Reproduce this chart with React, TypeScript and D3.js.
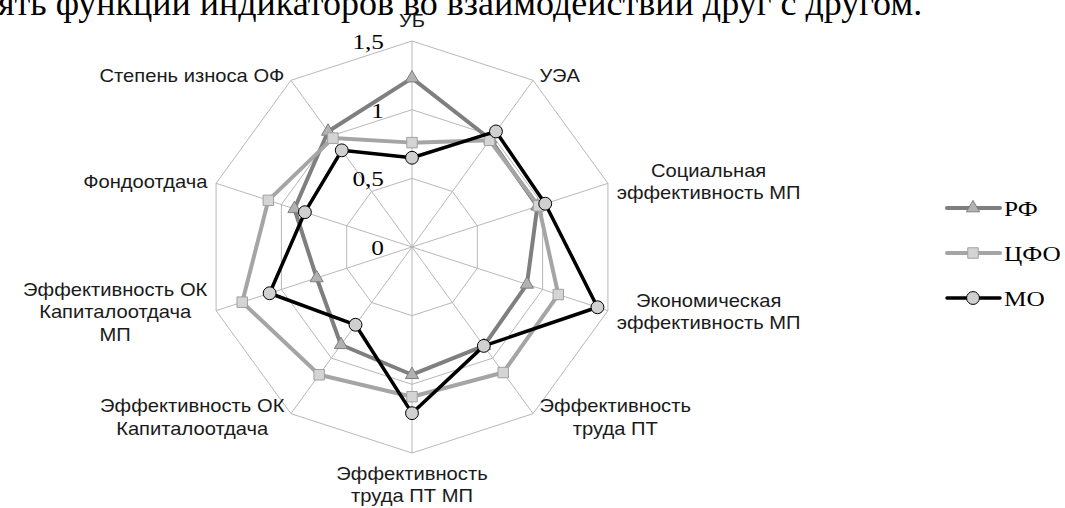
import { useEffect, useRef } from "react";
import * as d3 from "d3";

// axes, clockwise from the top
const categories = [
  ["УБ"],
  ["УЭА"],
  ["Социальная", "эффективность МП"],
  ["Экономическая", "эффективность МП"],
  ["Эффективность", "труда ПТ"],
  ["Эффективность", "труда ПТ МП"],
  ["Эффективность ОК", "Капиталоотдача"],
  ["Эффективность ОК", "Капиталоотдача", "МП"],
  ["Фондоотдача"],
  ["Степень износа ОФ"],
];

const rfValues = [1.23, 0.97, 0.96, 0.88, 0.89, 0.93, 0.88, 0.73, 0.9, 1.04];
const cfoValues = [0.76, 0.96, 0.97, 1.12, 1.13, 1.09, 1.15, 1.3, 1.1, 0.98];
const moValues = [0.65, 1.04, 1.02, 1.42, 0.89, 1.21, 0.7, 1.09, 0.82, 0.87];

const tickValues = [0, 0.5, 1, 1.5];
const tickLabels = ["0", "0,5", "1", "1,5"];

const seriesNames = ["РФ", "ЦФО", "МО"];

export default function App() {
  const ref = useRef<SVGSVGElement>(null);

  useEffect(() => {
    const root = d3.select(ref.current);
    root.selectAll("*").remove();

    const width = 1065;
    const height = 508;
    const cx = 412;
    const cy = 247;
    const radius = 206;
    const sx = 1.12; // text in the source is a little wide

    root.attr("width", width).attr("height", height);

    // heading line of the document, cut at the top
    root
      .append("text")
      .attr("x", -2)
      .attr("y", 15)
      .attr("font-family", "'Liberation Serif', 'Times New Roman', serif")
      .attr("font-size", 36)
      .attr("fill", "#000")
      .text("ять функции индикаторов во взаимодействии друг с другом.");

    const svg = root.append("g").attr("transform", `translate(${cx},${cy})`);

    const rScale = d3.scaleLinear().domain([0, 1.5]).range([0, radius]);
    const angleScale = d3
      .scaleLinear()
      .domain([0, categories.length])
      .range([0, 2 * Math.PI]);

    const px = (i: number, v: number) => Math.sin(angleScale(i)) * rScale(v);
    const py = (i: number, v: number) => -Math.cos(angleScale(i)) * rScale(v);

    // grid rings
    const ring = d3
      .lineRadial<number>()
      .angle((_, i) => angleScale(i))
      .radius((d) => rScale(d))
      .curve(d3.curveLinearClosed);

    tickValues
      .filter((t) => t > 0)
      .forEach((t) => {
        svg
          .append("path")
          .datum(categories.map(() => t))
          .attr("fill", "none")
          .attr("stroke", "#b8b8b8")
          .attr("stroke-width", 1)
          .attr("d", ring);
      });

    // spokes
    categories.forEach((_, i) => {
      svg
        .append("line")
        .attr("x1", 0)
        .attr("y1", 0)
        .attr("x2", px(i, 1.5))
        .attr("y2", py(i, 1.5))
        .attr("stroke", "#b8b8b8")
        .attr("stroke-width", 1);
    });

    // tick labels on the top axis
    tickValues.forEach((t, i) => {
      svg
        .append("g")
        .attr("transform", `translate(${-28},${-rScale(t) + 8}) scale(1.15,1)`)
        .append("text")
        .attr("text-anchor", "end")
        .attr("font-family", "'Liberation Serif', 'Times New Roman', serif")
        .attr("font-size", 22)
        .attr("fill", "#000")
        .text(tickLabels[i]);
    });

    // category labels
    const lineH = 22.5;
    categories.forEach((lines, i) => {
      const a = angleScale(i);
      const s = Math.sin(a);
      const c = Math.cos(a);
      const vx = px(i, 1.5);
      const vy = py(i, 1.5);
      const g = svg.append("g");
      const texts = lines.map((l) =>
        g
          .append("text")
          .attr("text-anchor", "middle")
          .attr("font-family", "'Liberation Sans', Arial, sans-serif")
          .attr("font-size", 18)
          .attr("fill", "#1a1a1a")
          .text(l)
      );
      const w =
        d3.max(texts, (t) => (t.node() as SVGTextElement).getComputedTextLength()) || 0;
      let x = vx;
      let y0: number;
      if (Math.abs(s) < 0.1) {
        y0 = c > 0 ? vy - 14 : vy + 27;
      } else {
        const gap = 3 + 6 * Math.abs(s);
        x = vx + Math.sign(s) * (gap + (w * sx) / 2);
        y0 = vy - ((lines.length - 1) * lineH) / 2 + 6 - 5 * c;
      }
      texts.forEach((t, k) => t.attr("y", k * lineH));
      g.attr("transform", `translate(${x},${y0}) scale(${sx},1)`);
    });

    // series
    const series = [
      { name: seriesNames[0], values: rfValues, color: "#7f7f7f", width: 4, marker: "triangle", fill: "#b2b2b2", mstroke: "#7f7f7f" },
      { name: seriesNames[1], values: cfoValues, color: "#a5a5a5", width: 4, marker: "square", fill: "#d4d4d4", mstroke: "#a0a0a0" },
      { name: seriesNames[2], values: moValues, color: "#000000", width: 3.5, marker: "circle", fill: "#d0d0d0", mstroke: "#000000" },
    ];

    const symbolOf = (m: string) =>
      m === "triangle"
        ? d3.symbol(d3.symbolTriangle, 75)
        : m === "square"
        ? d3.symbol(d3.symbolSquare, 110)
        : d3.symbol(d3.symbolCircle, 130);

    const radial = d3
      .lineRadial<number>()
      .angle((_, i) => angleScale(i))
      .radius((d) => rScale(d))
      .curve(d3.curveLinearClosed);

    series.forEach((sr) => {
      svg
        .append("path")
        .datum(sr.values)
        .attr("fill", "none")
        .attr("stroke", sr.color)
        .attr("stroke-width", sr.width)
        .attr("stroke-linejoin", "round")
        .attr("d", radial);
      svg
        .selectAll(null)
        .data(sr.values)
        .enter()
        .append("path")
        .attr("transform", (d, i) => `translate(${px(i, d)},${py(i, d)})`)
        .attr("d", symbolOf(sr.marker))
        .attr("fill", sr.fill)
        .attr("stroke", sr.mstroke)
        .attr("stroke-width", 1);
    });

    // legend
    const legend = root.append("g");
    series.forEach((sr, i) => {
      const ly = 208 + i * 45;
      legend
        .append("line")
        .attr("x1", 947)
        .attr("x2", 1000)
        .attr("y1", ly)
        .attr("y2", ly)
        .attr("stroke", sr.color)
        .attr("stroke-width", sr.width)
        .attr("stroke-linecap", "round");
      legend
        .append("path")
        .attr("transform", `translate(973,${ly})`)
        .attr("d", symbolOf(sr.marker))
        .attr("fill", sr.fill)
        .attr("stroke", sr.mstroke)
        .attr("stroke-width", 1);
      legend
        .append("g")
        .attr("transform", `translate(1004,${ly + 8}) scale(1.15,1)`)
        .append("text")
        .attr("font-family", "'Liberation Serif', 'Times New Roman', serif")
        .attr("font-size", 22)
        .attr("fill", "#000")
        .text(sr.name);
    });
  }, []);

  return (
    <svg
      ref={ref}
      style={{ position: "absolute", left: 0, top: 0, background: "#fff" }}
    ></svg>
  );
}
